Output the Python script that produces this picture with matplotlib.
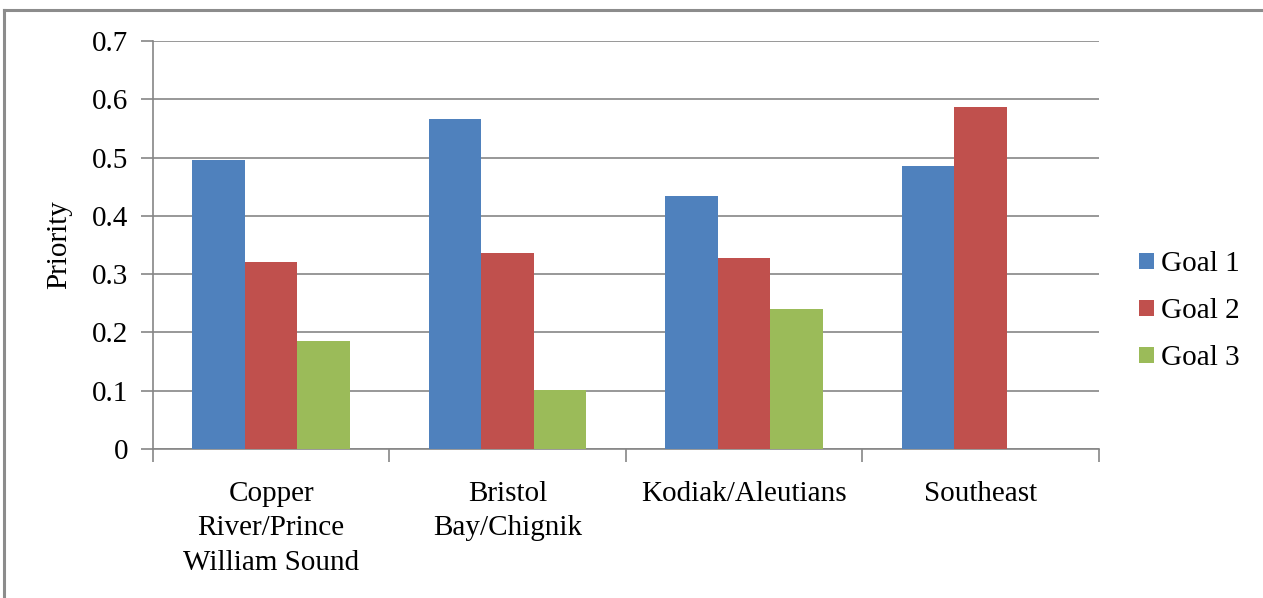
import matplotlib
matplotlib.use("Agg")
import matplotlib.pyplot as plt
from matplotlib.lines import Line2D
import numpy as np

regions = ["Copper\nRiver/Prince\nWilliam Sound", "Bristol\nBay/Chignik",
           "Kodiak/Aleutians", "Southeast"]
goal1 = [0.496, 0.566, 0.434, 0.485]
goal2 = [0.321, 0.336, 0.328, 0.587]
goal3 = [0.185, 0.101, 0.240, 0.0]
series_names = ["Goal 1", "Goal 2", "Goal 3"]
colors = ["#4F81BD", "#C0504D", "#9BBB59"]
yticks = [0, 0.1, 0.2, 0.3, 0.4, 0.5, 0.6, 0.7]
ytick_labels = ["0", "0.1", "0.2", "0.3", "0.4", "0.5", "0.6", "0.7"]

plt.rcParams["font.family"] = ["Liberation Serif", "DejaVu Serif"]
fs = 21

fig = plt.figure(figsize=(12.63, 5.98), dpi=100)
ax = fig.add_axes([0.1211, 0.2492, 0.8698 - 0.1211, 0.9314 - 0.2492])

grid_color = "#868686"
x = np.arange(len(regions))
width = 1 / 4.5
for i, (vals, name, c) in enumerate(zip([goal1, goal2, goal3], series_names, colors)):
    ax.bar(x + (i - 1) * width, vals, width, color=c, label=name, zorder=3)

ax.set_xlim(-0.5, len(regions) - 0.5)
ax.set_ylim(0, 0.7)
ax.set_yticks(yticks)
ax.set_yticklabels(ytick_labels)
ax.yaxis.grid(True, color=grid_color, linewidth=1.2, zorder=0)
ax.set_axisbelow(True)

# category boundaries as major ticks, names on minor ticks at centres
ax.set_xticks(np.arange(len(regions) + 1) - 0.5)
ax.set_xticklabels([])
ax.set_xticks(x, minor=True)
ax.set_xticklabels(regions, minor=True, fontsize=fs, linespacing=1.42)
ax.tick_params(axis="x", which="major", length=9, width=1.2, color=grid_color, direction="out")
ax.tick_params(axis="x", which="minor", length=0, pad=23)
ax.tick_params(axis="y", length=9, width=1.2, color=grid_color, direction="out",
               labelsize=fs, pad=9)

for s in ["top", "right"]:
    ax.spines[s].set_visible(False)
for s in ["left", "bottom"]:
    ax.spines[s].set_color(grid_color)
    ax.spines[s].set_linewidth(1.2)

ax.set_ylabel("Priority", fontsize=fs, labelpad=14)

ax.legend(loc="center left", bbox_to_anchor=(1.015, 0.337), frameon=False,
          fontsize=fs, handlelength=0.5, handleheight=0.5, handletextpad=0.25,
          labelspacing=0.72)

# outer frame (top and left edges)
fig.add_artist(Line2D([4 / 1263, 4 / 1263], [0, 1 - 10 / 598],
                      transform=fig.transFigure, color="#8c8c8c", linewidth=2.2))
fig.add_artist(Line2D([4 / 1263, 1], [1 - 10 / 598, 1 - 10 / 598],
                      transform=fig.transFigure, color="#8c8c8c", linewidth=2.2))

fig.savefig("out.png", dpi=100)
